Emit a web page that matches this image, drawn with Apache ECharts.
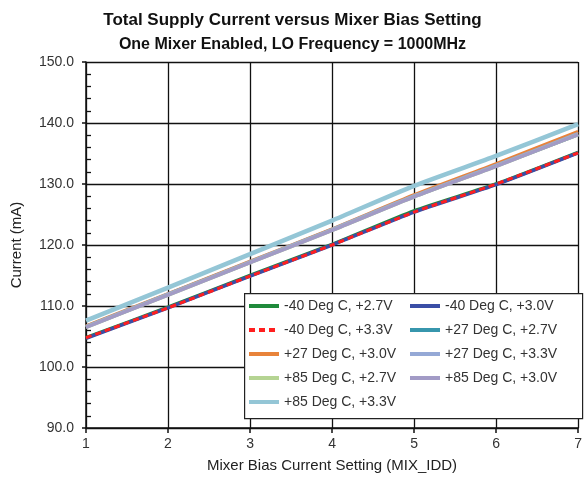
<!DOCTYPE html>
<html>
<head>
<meta charset="utf-8">
<script src="https://cdn.jsdelivr.net/npm/echarts@6/dist/echarts.min.js"></script>
<style>
  html, body { margin: 0; padding: 0; background: #fff; }
  #chart { width: 585px; height: 478px; }
</style>
</head>
<body>
<div id="chart"></div>
<script>
// mixer bias setting (x)
const biasSettings = [1, 2, 3, 4, 5, 6, 7];
const yTicks = [90, 100, 110, 120, 130, 140, 150];

// supply current (mA)
const m40v27 = [104.8, 109.8, 115.0, 120.1, 125.6, 130.0, 135.2];
const m40v30 = [104.7, 109.7, 114.9, 120.0, 125.4, 129.9, 135.1];
const m40v33 = [104.8, 109.7, 114.9, 120.0, 125.4, 130.0, 135.1];
const p27v27 = [106.6, 111.9, 117.2, 122.5, 128.0, 133.0, 138.1];
const p27v30 = [106.7, 112.0, 117.3, 122.6, 128.2, 133.3, 138.6];
const p27v33 = [106.6, 111.9, 117.2, 122.5, 128.0, 133.0, 138.2];
const p85v27 = [106.5, 111.8, 117.1, 122.4, 127.9, 132.9, 138.1];
const p85v30 = [106.5, 111.8, 117.1, 122.4, 127.9, 132.9, 138.1];
const p85v33 = [107.6, 113.0, 118.5, 124.0, 129.7, 134.6, 139.8];

const seriesDefs = [
  { name: '-40 Deg C, +2.7V', data: m40v27, color: '#1f8a3b', width: 3.5 },
  { name: '-40 Deg C, +3.0V', data: m40v30, color: '#3a4ea6', width: 3.5 },
  { name: '-40 Deg C, +3.3V', data: m40v33, color: '#ff1f1f', width: 3, dashed: true },
  { name: '+27 Deg C, +2.7V', data: p27v27, color: '#3796ad', width: 3.5 },
  { name: '+27 Deg C, +3.0V', data: p27v30, color: '#e8833a', width: 3.5 },
  { name: '+27 Deg C, +3.3V', data: p27v33, color: '#95a9d6', width: 4 },
  { name: '+85 Deg C, +2.7V', data: p85v27, color: '#b5d493', width: 3.5 },
  { name: '+85 Deg C, +3.0V', data: p85v30, color: '#a29bc6', width: 3.5 },
  { name: '+85 Deg C, +3.3V', data: p85v33, color: '#94c6d6', width: 4.5 },
];

const FONT = '"Liberation Sans", Arial, sans-serif';

const chart = echarts.init(document.getElementById('chart'));

const legendText = { fontSize: 14, color: '#333', fontFamily: FONT };
const legendCommon = {
  orient: 'vertical',
  top: 299,
  padding: 0,
  itemWidth: 30,
  itemHeight: 14,
  itemGap: 10,
  itemStyle: { opacity: 0 },
  lineStyle: { width: 4 },
  textStyle: legendText,
  selectedMode: false,
};

const option = {
  animation: false,
  title: [
    {
      text: 'Total Supply Current versus Mixer Bias Setting',
      left: 'center',
      top: 7,
      textStyle: { fontSize: 17, fontWeight: 'bold', color: '#111', fontFamily: FONT },
    },
    {
      text: 'One Mixer Enabled, LO Frequency = 1000MHz',
      left: 'center',
      top: 32,
      textStyle: { fontSize: 16, fontWeight: 'bold', color: '#111', fontFamily: FONT },
    },
  ],
  graphic: [
    {
      type: 'rect',
      left: 244,
      top: 293,
      shape: { width: 338, height: 125 },
      style: { fill: '#fff', stroke: '#222', lineWidth: 1.2 },
      z: 5,
    },
  ],
  legend: [
    Object.assign({}, legendCommon, {
      left: 247,
      data: [0, 2, 4, 6, 8].map((i) => seriesDefs[i].name),
      z: 10,
    }),
    Object.assign({}, legendCommon, {
      left: 408,
      data: [1, 3, 5, 7].map((i) => seriesDefs[i].name),
      z: 10,
    }),
  ],
  grid: { left: 86, right: 3, top: 62, bottom: 50 },
  xAxis: {
    type: 'value',
    min: biasSettings[0],
    max: biasSettings[biasSettings.length - 1],
    interval: 1,
    name: 'Mixer Bias Current Setting (MIX_IDD)',
    nameLocation: 'middle',
    nameGap: 30,
    nameTextStyle: { fontSize: 15, color: '#222', fontFamily: FONT },
    axisLine: { lineStyle: { color: '#111', width: 1.5 } },
    axisTick: { show: true, length: 5, lineStyle: { color: '#111', width: 1.5 } },
    axisLabel: { fontSize: 14, color: '#333', fontFamily: FONT, margin: 9 },
    splitLine: { show: true, lineStyle: { color: '#111', width: 1.3 } },
  },
  yAxis: [
    {
      type: 'value',
      min: yTicks[0],
      max: yTicks[yTicks.length - 1],
      interval: 10,
      name: 'Current (mA)',
      nameLocation: 'middle',
      nameGap: 62,
      nameTextStyle: { fontSize: 15, color: '#222', fontFamily: FONT },
      axisLine: { show: true, lineStyle: { color: '#111', width: 1.5 } },
      axisTick: { show: true, length: 4, lineStyle: { color: '#111', width: 1.5 } },
      axisLabel: {
        fontSize: 14,
        color: '#333',
        fontFamily: FONT,
        margin: 12,
        formatter: (v) => v.toFixed(1),
      },
      splitLine: { show: true, lineStyle: { color: '#111', width: 1.3 } },
    },
    {
      // only carries the inner minor ticks
      type: 'value',
      position: 'left',
      min: yTicks[0],
      max: yTicks[yTicks.length - 1],
      interval: 10,
      axisLine: { show: false },
      axisTick: { show: true, inside: true, length: 0, lineStyle: { width: 0 } },
      minorTick: { show: true, splitNumber: 5, length: 5, lineStyle: { color: '#111', width: 1.3 } },
      axisLabel: { show: false },
      splitLine: { show: false },
    },
  ],
  series: seriesDefs.map((s) => ({
    name: s.name,
    type: 'line',
    smooth: 0.2,
    symbol: 'none',
    color: s.color,
    lineStyle: { color: s.color, width: s.width, type: s.dashed ? [6, 4] : 'solid' },
    data: biasSettings.map((x, i) => [x, s.data[i]]),
  })),
};

chart.setOption(option);
</script>
</body>
</html>
